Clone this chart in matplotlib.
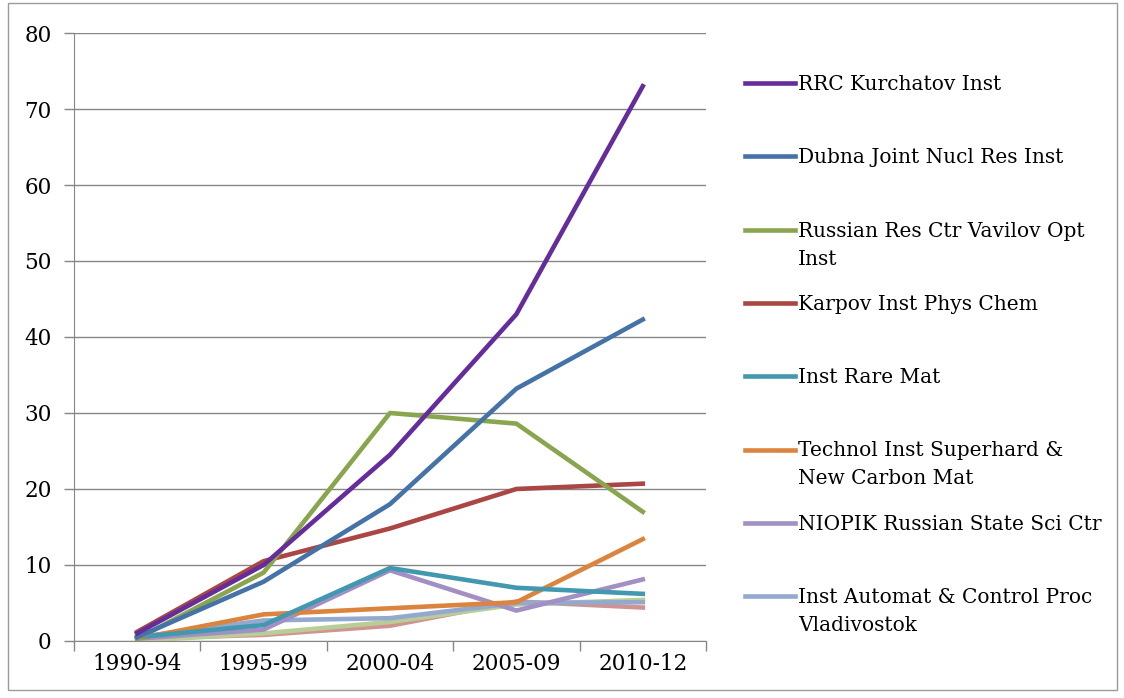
import numpy as np
import matplotlib
matplotlib.use('Agg')
from matplotlib import pyplot as plt
from matplotlib.lines import Line2D
from matplotlib.patches import Rectangle

periods = ['1990-94', '1995-99', '2000-04', '2005-09', '2010-12']

kurchatov = [1.0, 10.0, 24.5, 43.0, 73.0]
dubna = [0.5, 7.8, 18.0, 33.2, 42.3]
vavilov = [0.3, 9.0, 30.0, 28.6, 17.0]
karpov = [1.2, 10.5, 14.8, 20.0, 20.7]
rare_mat = [0.5, 2.1, 9.6, 7.0, 6.2]
superhard = [0.3, 3.5, 4.3, 5.1, 13.4]
niopik = [0.3, 1.5, 9.3, 4.0, 8.1]
automat = [0.5, 2.7, 3.0, 5.0, 5.1]
extra1 = [0.0, 1.0, 2.5, 4.8, 5.4]
extra2 = [0.3, 0.8, 2.0, 5.2, 4.4]

names = ['RRC Kurchatov Inst', 'Dubna Joint Nucl Res Inst',
         'Russian Res Ctr Vavilov Opt\nInst', 'Karpov Inst Phys Chem',
         'Inst Rare Mat', 'Technol Inst Superhard &\nNew Carbon Mat',
         'NIOPIK Russian State Sci Ctr', 'Inst Automat & Control Proc\nVladivostok']
series = [kurchatov, dubna, vavilov, karpov, rare_mat, superhard, niopik, automat]
colors = ['#652d9c', '#4572a7', '#89a54e', '#aa4643', '#4198af', '#db843d',
          '#a28fc4', '#93a9cf']

plt.rcParams['font.family'] = ['DejaVu Serif']

fig = plt.figure(figsize=(11.24, 6.98), dpi=100)
ax = fig.add_axes([0.0658, 0.0817, 0.5623, 0.871])
fig.patches.append(Rectangle((0.007, 0.011), 0.987, 0.985, transform=fig.transFigure,
                             fill=False, edgecolor='#9a9a9a', lw=1))

x = np.arange(len(periods))
# draw back to front so the big ones sit on top like the original
ax.plot(x, extra2, color='#d19392', lw=3.3, zorder=2)
ax.plot(x, extra1, color='#b9cd96', lw=3.3, zorder=2)
for s, c in reversed(list(zip(series, colors))):
    ax.plot(x, s, color=c, lw=3.3, zorder=3)

ax.set_xlim(-0.5, 4.5)
ax.set_ylim(0, 80)
ax.set_yticks(range(0, 81, 10))
ax.set_xticks(x)
ax.set_xticklabels(periods)
ax.set_xticks(np.arange(-0.5, 5, 1), minor=True)
ax.tick_params(axis='x', which='major', length=0, pad=9, labelsize=15.5)
ax.tick_params(axis='x', which='minor', length=7, color='#868686', width=1)
ax.tick_params(axis='y', length=7, color='#868686', width=1, pad=9, labelsize=15.5)
ax.grid(axis='y', color='#868686', lw=1)
ax.set_axisbelow(True)
for sp in ['top', 'right']:
    ax.spines[sp].set_visible(False)
for sp in ['left', 'bottom']:
    ax.spines[sp].set_color('#868686')

# legend slots
H = 698.0
for i, (name, c) in enumerate(zip(names, colors)):
    yp = 83 + i * 73.3
    yf = 1 - yp / H
    fig.add_artist(Line2D([745 / 1124, 795 / 1124], [yf, yf], color=c, lw=3.3,
                          transform=fig.transFigure))
    fig.text(798 / 1124, yf + 8 / H, name, fontsize=14.5, va='top', ha='left',
             linespacing=1.6)

fig.savefig('out.png', dpi=100)
